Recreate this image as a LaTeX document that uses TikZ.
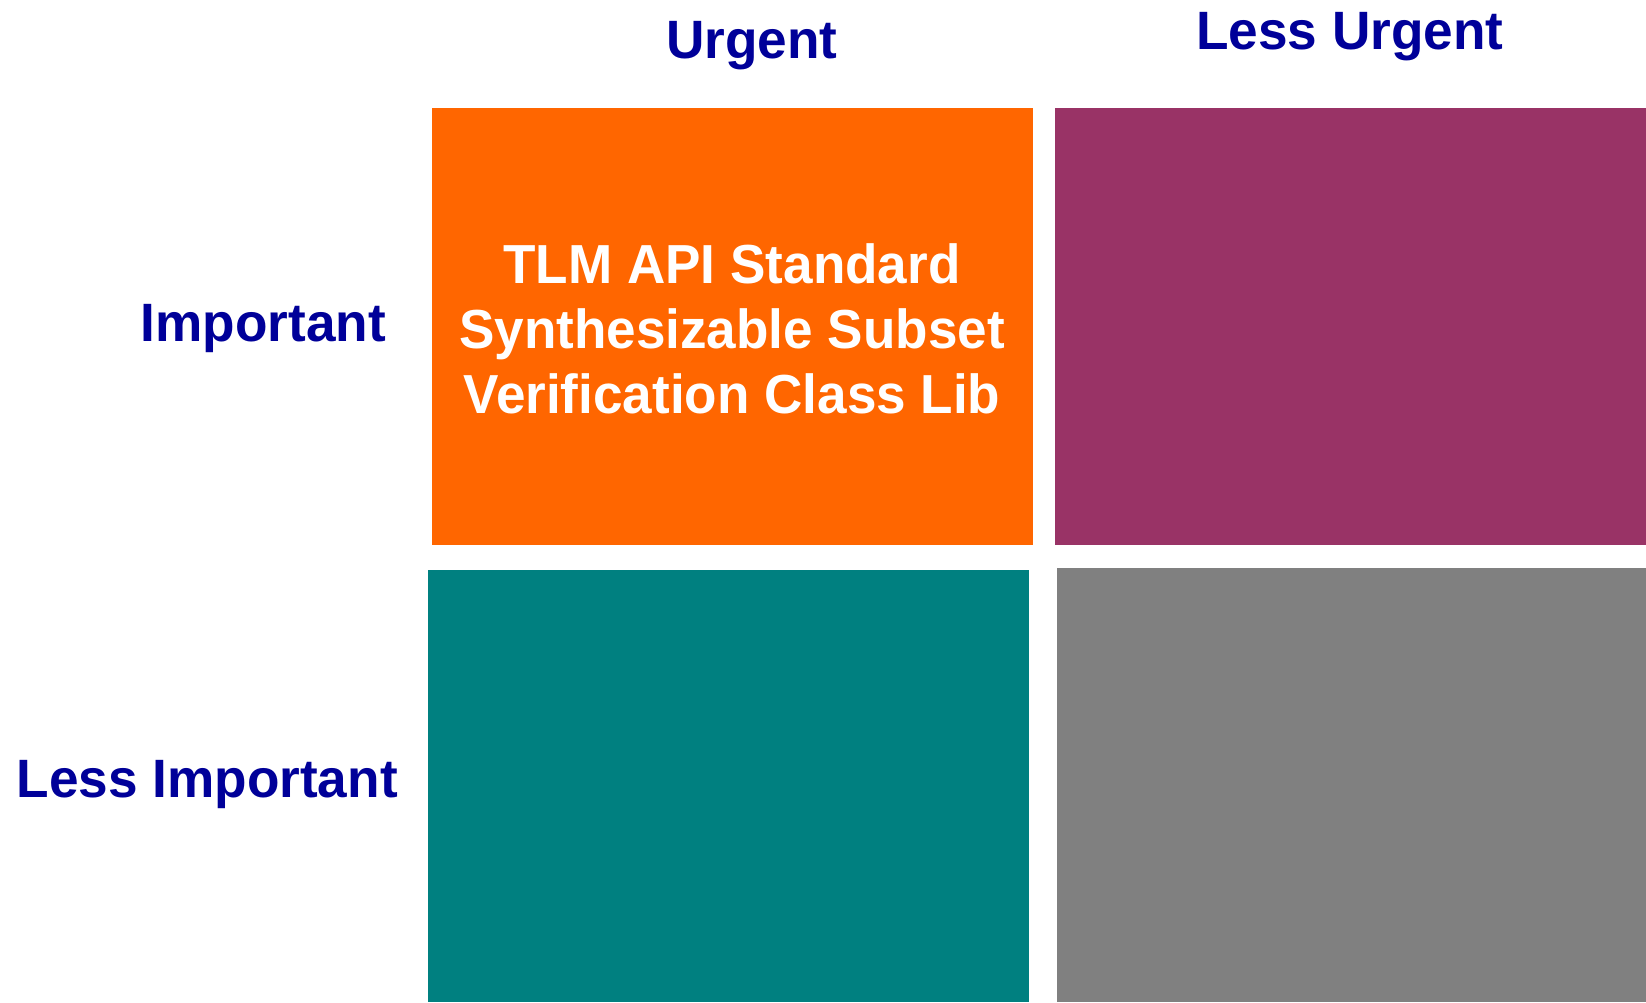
\documentclass[tikz,border=0pt]{standalone}
\usepackage{fontspec}
\setmainfont{Liberation Sans}
\newfontfamily\innerfont[FakeStretch=0.965]{Liberation Sans}
\newfontfamily\headfont[FakeStretch=0.985]{Liberation Sans}
\definecolor{qorange}{HTML}{FF6600}
\definecolor{qmagenta}{HTML}{993366}
\definecolor{qteal}{HTML}{008080}
\definecolor{qgray}{HTML}{808080}
\definecolor{qnavy}{HTML}{000099}
\begin{document}
\begin{tikzpicture}[x=1pt,y=-1pt,
  quad/.style={inner sep=0pt, outer sep=0pt, anchor=north west},
  head/.style={text=qnavy, font=\headfont\fontsize{54}{60}\selectfont\bfseries, inner sep=0pt},
  inner/.style={text=white, align=center, inner sep=0pt, font=\innerfont\fontsize{55}{65}\selectfont\bfseries}]
\useasboundingbox (0,0) rectangle (1646,1002);
\fill[white] (0,0) rectangle (1646,1002);
\fill[qorange] (432,108) rectangle (1033,545);
\fill[qmagenta] (1055,108) rectangle (1646,545);
\fill[qteal] (428,570) rectangle (1029,1002);
\fill[qgray] (1057,568) rectangle (1646,1002);
\node[quad] (oq) at (432,108) {};
\node[head, anchor=base] (urg) at (752,58) {Urgent};
\node[head, anchor=base] (lurg) at (1350,49) {Less Urgent};
\node[head, anchor=base east] (imp) at (386,341) {Important};
\node[head, anchor=base east] (limp) at (398,797) {Less Important};
\node[inner, anchor=base] (l1) at (732,283) {TLM API Standard};
\node[inner, anchor=base] (l2) at (732,348) {Synthesizable Subset};
\node[inner, anchor=base] (l3) at (732,413) {Verification Class Lib};
\end{tikzpicture}
\end{document}
